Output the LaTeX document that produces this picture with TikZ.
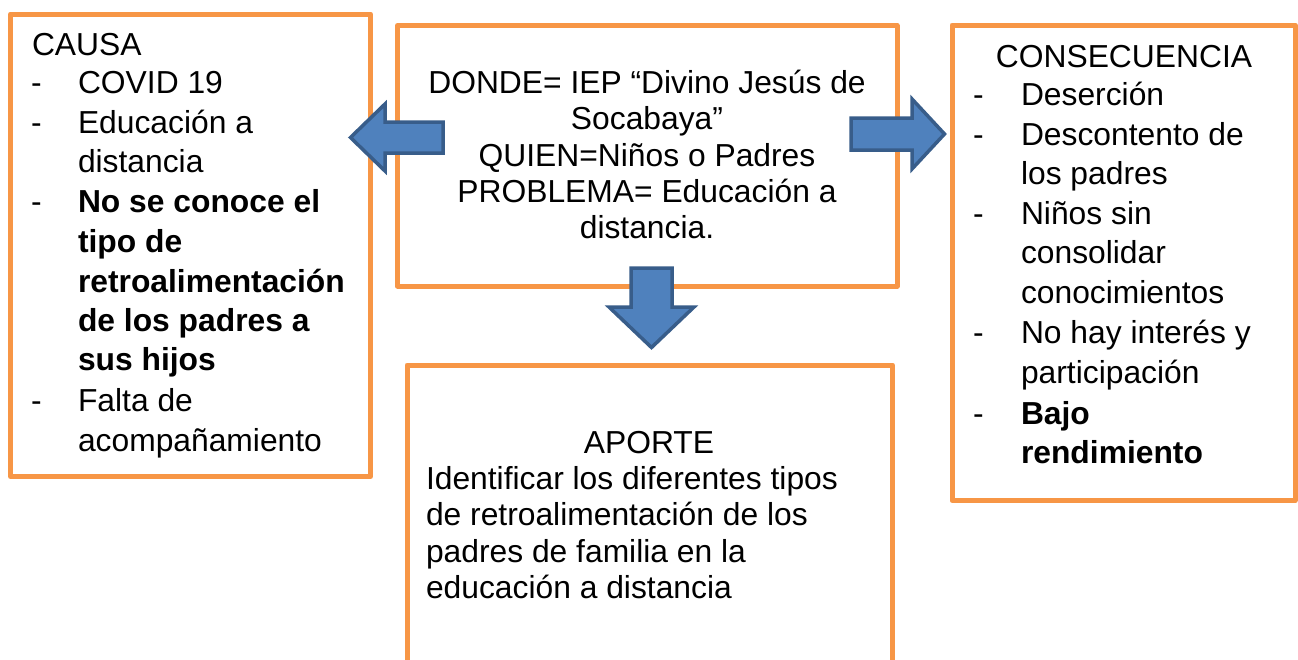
\documentclass[tikz,border=0pt]{standalone}
\usepackage{fontspec}
\setmainfont{Liberation Sans}[Ligatures=NoCommon]
\definecolor{boxorange}{HTML}{F79646}
\definecolor{arrowfill}{HTML}{4F81BD}
\definecolor{arrowline}{HTML}{385D8A}
\begin{document}
\begin{tikzpicture}[x=1pt,y=-1pt,
  frame/.style={draw=boxorange, line width=5pt, fill=white, line join=round, inner sep=0pt, outer sep=0pt},
  bigarrow/.style={draw=arrowline, fill=arrowfill, line width=3.5pt, line join=miter},
  txt/.style={inner sep=0pt, outer sep=0pt, anchor=base west, font=\fontsize{31.8}{38}\selectfont},
  ctxt/.style={txt, anchor=base},
  btxt/.style={txt, font=\fontsize{31.8}{38}\selectfont\bfseries}]
\clip (0,0) rectangle (1298,659);
\fill[white] (0,0) rectangle (1298,659);
% boxes
\node[frame, minimum width=360pt, minimum height=462.5pt] (causa) at (190.5,245.25) {};
\node[frame, minimum width=499.5pt, minimum height=260.5pt] (centro) at (647.25,155.75) {};
\node[frame, minimum width=343pt, minimum height=475.5pt] (conse) at (1123.5,262.75) {};
\node[frame, minimum width=485.5pt, minimum height=335pt] (aporte) at (649.75,532.5) {};
% block arrows
\draw[bigarrow] (443,122) -- (385,122) -- (385,104) -- (350.5,137.5) -- (385,171) -- (385,153) -- (443,153) -- cycle;
\draw[bigarrow] (851,118) -- (912,118) -- (912,99) -- (944.5,134) -- (912,169) -- (912,150) -- (851,150) -- cycle;
\draw[bigarrow] (631,268) -- (672,268) -- (672,307) -- (694,307) -- (651.5,347.5) -- (609,307) -- (631,307) -- cycle;
% CAUSA text
\node[txt] (ca0) at (32,55) {CAUSA};
\node[txt] (cd1) at (31,93) {-};
\node[txt] (cd2) at (31,133) {-};
\node[txt] (cd3) at (31,212) {-};
\node[txt] (cd4) at (31,411) {-};
\node[txt] (ca1) at (78,93) {COVID 19};
\node[txt] (ca2) at (78,133) {Educación a};
\node[txt] (ca3) at (78,172) {distancia};
\node[btxt] (ca4) at (78,212) {No se conoce el};
\node[btxt] (ca5) at (78,252) {tipo de};
\node[btxt] (ca6) at (78,292) {retroalimentación};
\node[btxt] (ca7) at (78,331) {de los padres a};
\node[btxt] (ca8) at (78,370) {sus hijos};
\node[txt] (ca9) at (78,411) {Falta de};
\node[txt] (ca10) at (78,451) {acompañamiento};
% center text
\node[ctxt] (ce1) at (647,93) {DONDE= IEP “Divino Jesús de};
\node[ctxt] (ce2) at (647,129) {Socabaya”};
\node[ctxt] (ce3) at (647,166) {QUIEN=Niños o Padres};
\node[ctxt] (ce4) at (647,202) {PROBLEMA= Educación a};
\node[ctxt] (ce5) at (647,238) {distancia.};
% CONSECUENCIA text
\node[ctxt] (co0) at (1124,67) {CONSECUENCIA};
\node[txt] (cod1) at (973,105) {-};
\node[txt] (cod2) at (973,145) {-};
\node[txt] (cod3) at (973,224) {-};
\node[txt] (cod4) at (973,343) {-};
\node[txt] (cod5) at (973,424) {-};
\node[txt] (co1) at (1021,105) {Deserción};
\node[txt] (co2) at (1021,145) {Descontento de};
\node[txt] (co3) at (1021,184) {los padres};
\node[txt] (co4) at (1021,224) {Niños sin};
\node[txt] (co5) at (1021,263) {consolidar};
\node[txt] (co6) at (1021,303) {conocimientos};
\node[txt] (co7) at (1021,343) {No hay interés y};
\node[txt] (co8) at (1021,383) {participación};
\node[btxt] (co9) at (1021,424) {Bajo};
\node[btxt] (co10) at (1021,463) {rendimiento};
% APORTE text
\node[ctxt] (ap0) at (649,453) {APORTE};
\node[txt] (ap1) at (426,489) {Identificar los diferentes tipos};
\node[txt] (ap2) at (426,525) {de retroalimentación de los};
\node[txt] (ap3) at (426,562) {padres de familia en la};
\node[txt] (ap4) at (426,598) {educación a distancia};
\end{tikzpicture}
\end{document}
